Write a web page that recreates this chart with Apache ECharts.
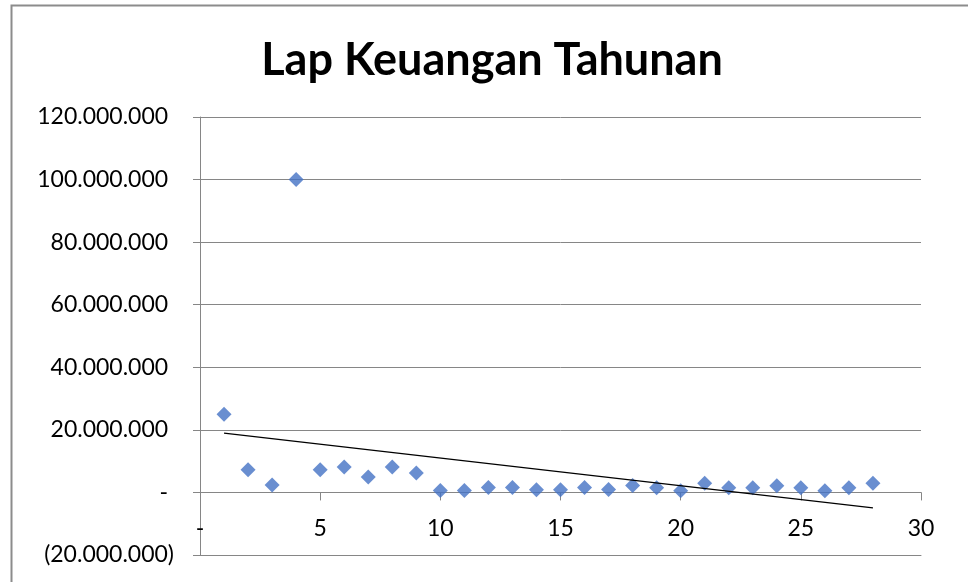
<!DOCTYPE html>
<html>
<head>
<meta charset="utf-8">
<script src="https://cdn.jsdelivr.net/npm/echarts@6/dist/echarts.min.js"></script>
<style>
html,body{margin:0;padding:0;background:#fff;}
#c{width:968px;height:582px;}
</style>
</head>
<body>
<div id="c"></div>
<script>
var title = 'Lap Keuangan Tahunan';
var xValues = [1,2,3,4,5,6,7,8,9,10,11,12,13,14,15,16,17,18,19,20,21,22,23,24,25,26,27,28];
var yValues = [25000000,7250000,2400000,100000000,7250000,8100000,4900000,8100000,6200000,640000,640000,1600000,1600000,860000,860000,1600000,960000,2200000,1500000,500000,2900000,1500000,1500000,2100000,1500000,500000,1500000,2900000];
var yMin = -20000000, yMax = 120000000, yStep = 20000000;
var xMin = 0, xMax = 30, xStep = 5;

// linear trendline (least squares) from the data
var n = xValues.length, sx=0, sy=0, sxx=0, sxy=0;
for (var i=0;i<n;i++){ sx+=xValues[i]; sy+=yValues[i]; sxx+=xValues[i]*xValues[i]; sxy+=xValues[i]*yValues[i]; }
var slope = (n*sxy - sx*sy)/(n*sxx - sx*sx);
var intercept = (sy - slope*sx)/n;
var x0 = xValues[0], x1 = xValues[n-1];
var trend = [[x0, intercept+slope*x0],[x1, intercept+slope*x1]];

function fmtY(v){
  if (v === 0) return '- ';
  var s = Math.abs(v).toString().replace(/\B(?=(\d{3})+(?!\d))/g,'.');
  return v < 0 ? '(' + s + ')' : s + ' ';
}
var points = xValues.map(function(x,i){ return [x, yValues[i]]; });
var gray = '#868686';
var font = 'Lato, "Noto Sans", sans-serif';

var chart = echarts.init(document.getElementById('c'), null, {renderer:'canvas'});
chart.setOption({
  backgroundColor:'#fff',
  animation:false,
  title:{text:title, left:487, textAlign:'center', top:33,
    textStyle:{fontFamily:font, fontWeight:'bold', fontSize:45, color:'#000'}},
  graphic:[{type:'polyline', shape:{points:[[11.5,600],[11.5,5.5],[980,5.5]]}, style:{stroke:'#8c8c8c', lineWidth:2, fill:null}}],
  grid:{left:200, right:47, top:117, bottom:27, containLabel:false, outerBoundsMode:'none'},
  xAxis:[{type:'value', min:xMin, max:xMax, interval:xStep,
    axisLine:{onZero:true, lineStyle:{color:gray, width:1}},
    axisTick:{show:true, length:8, inside:false, lineStyle:{color:gray}},
    splitLine:{show:false},
    axisLabel:{margin:-38, fontFamily:font, fontSize:23, color:'#000',
      formatter:function(v){ return v===0 ? '-' : String(v); }}},
    {type:'value', min:xMin, max:xMax, interval:xStep, position:'bottom', offset:0,
      axisLine:{show:true, onZero:false, lineStyle:{color:gray, width:1}},
      axisTick:{show:false}, axisLabel:{show:false}, splitLine:{show:false}}],
  yAxis:{type:'value', min:yMin, max:yMax, interval:yStep,
    axisLine:{show:true, onZero:false, lineStyle:{color:gray, width:1}},
    axisTick:{show:true, length:7, lineStyle:{color:gray}},
    splitLine:{show:true, showMinLine:true, showMaxLine:true, lineStyle:{color:gray, width:1}},
    axisLabel:{margin:26, fontFamily:font, fontSize:23, color:'#000', formatter:fmtY}},
  series:[
    {type:'scatter', data:points, symbol:'diamond', symbolSize:15, itemStyle:{color:'#4472C4'}, z:3},
    {type:'line', data:trend, symbol:'none', lineStyle:{color:'#000', width:1.3}, z:4, silent:true}
  ]
});
</script>
</body>
</html>
